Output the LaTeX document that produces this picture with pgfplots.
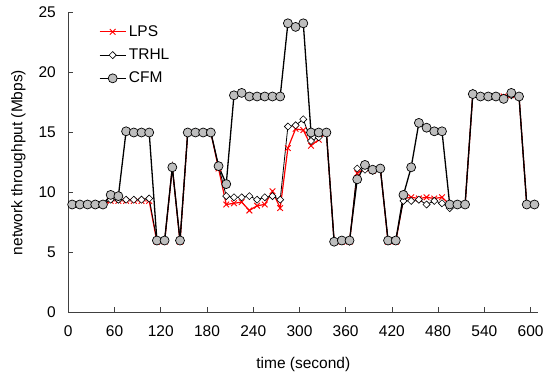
\documentclass[border=0pt]{standalone}
\usepackage{fontspec}
\setmainfont{Liberation Sans}
\usepackage{pgfplots}
\usepackage{pgfplotstable}
\pgfplotsset{compat=1.18}
\definecolor{cfmgray}{RGB}{190,190,190}
\pgfplotstableread{
x LPS TRHL CFM
5 9.0 9.0 9.0
15 9.0 9.0 9.0
25 9.0 9.0 9.0
35 9.0 9.0 9.0
45 9.0 9.0 9.0
55 9.3 9.4 9.8
65 9.3 9.4 9.7
75 9.3 9.4 15.1
85 9.3 9.4 15.0
95 9.3 9.4 15.0
105 9.3 9.5 15.0
115 5.9 6.0 6.0
125 5.9 6.0 6.0
135 12.1 12.1 12.1
145 5.9 6.0 6.0
155 15.0 15.0 15.0
165 15.0 15.0 15.0
175 15.0 15.0 15.0
185 15.0 15.0 15.0
195 12.0 12.2 12.2
205 9.0 9.7 10.7
215 9.1 9.6 18.1
225 9.2 9.6 18.3
235 8.5 9.7 18.0
245 8.9 9.4 18.0
255 9.0 9.6 18.0
265 10.1 9.7 18.0
275 8.7 9.4 18.0
285 13.7 15.5 24.1
295 15.3 15.6 23.8
305 15.2 16.1 24.1
315 13.9 14.3 15.0
325 14.4 14.6 15.0
335 15.0 15.0 15.0
345 5.9 6.0 5.9
355 5.9 6.0 6.0
365 5.9 5.9 6.0
375 11.6 12.0 11.1
385 12.0 11.9 12.3
395 11.8 11.8 11.9
405 12.0 12.0 12.0
415 5.9 6.0 6.0
425 5.9 6.0 6.0
435 9.5 9.3 9.8
445 9.6 9.3 12.1
455 9.5 9.4 15.8
465 9.6 9.0 15.4
475 9.5 9.3 15.1
485 9.6 9.1 15.1
495 9.0 8.7 9.0
505 9.0 9.0 9.0
515 9.0 9.0 9.0
525 18.2 18.3 18.2
535 18.0 18.0 18.0
545 18.0 18.0 18.0
555 18.0 18.0 18.0
565 18.0 17.9 17.8
575 18.1 18.1 18.3
585 18.0 18.0 18.0
595 9.0 9.0 9.0
605 9.0 9.0 9.0
}\datatable
\begin{document}
\begin{tikzpicture}
\begin{axis}[
  scale only axis, width=470bp, height=300bp,
  xmin=0, xmax=610, ymin=0, ymax=25,
  axis x line=bottom, axis y line=left,
  axis line style={-, line width=0.8bp, black!75},
  xtick={0,60,...,600}, ytick={0,5,...,25},
  tick align=inside, major tick length=5bp,
  tick style={black!75, line width=0.8bp},
  font=\fontsize{15.5bp}{18bp}\selectfont,
  /pgf/number format/assume math mode=true,
  xticklabel style={yshift=-10bp},
  yticklabel style={xshift=-9bp},
  xlabel={time (second)}, ylabel={network throughput (Mbps)},
  every axis x label/.style={at={(axis description cs:0.5,0)}, anchor=center, yshift=-52bp},
  every axis y label/.style={at={(axis description cs:0,0.5)}, rotate=90, anchor=center, yshift=50bp},
  legend cell align=left,
  legend style={at={(axis description cs:0.065,0.965)}, anchor=north west, draw=none, fill=none,
    inner sep=0pt, row sep=6bp, nodes={inner sep=2.5bp}},
  legend image code/.code={\draw[mark repeat=2, mark phase=2, #1] plot coordinates {(0bp,0bp) (13bp,0bp) (26bp,0bp)};},
  clip=false,
]
\addplot[color=red, line width=1.2bp, mark=x, mark size=4bp, mark options={solid, line width=0.9bp}] table[x=x, y=LPS] {\datatable};
\addlegendentry{LPS}
\addplot[color=black, line width=0.8bp, mark=square*, mark size=2.5bp, mark options={fill=white, rotate=45, line width=0.6bp}] table[x=x, y=TRHL] {\datatable};
\addlegendentry{TRHL}
\addplot[color=black, line width=1.3bp, mark=*, mark size=4.5bp, mark options={fill=cfmgray, line width=0.7bp}] table[x=x, y=CFM] {\datatable};
\addlegendentry{CFM}
\end{axis}
\path ([xshift=-68.3bp,yshift=-64.5bp]current axis.south west) rectangle ([xshift=20.7bp,yshift=12.5bp]current axis.north east);
\end{tikzpicture}
\end{document}
